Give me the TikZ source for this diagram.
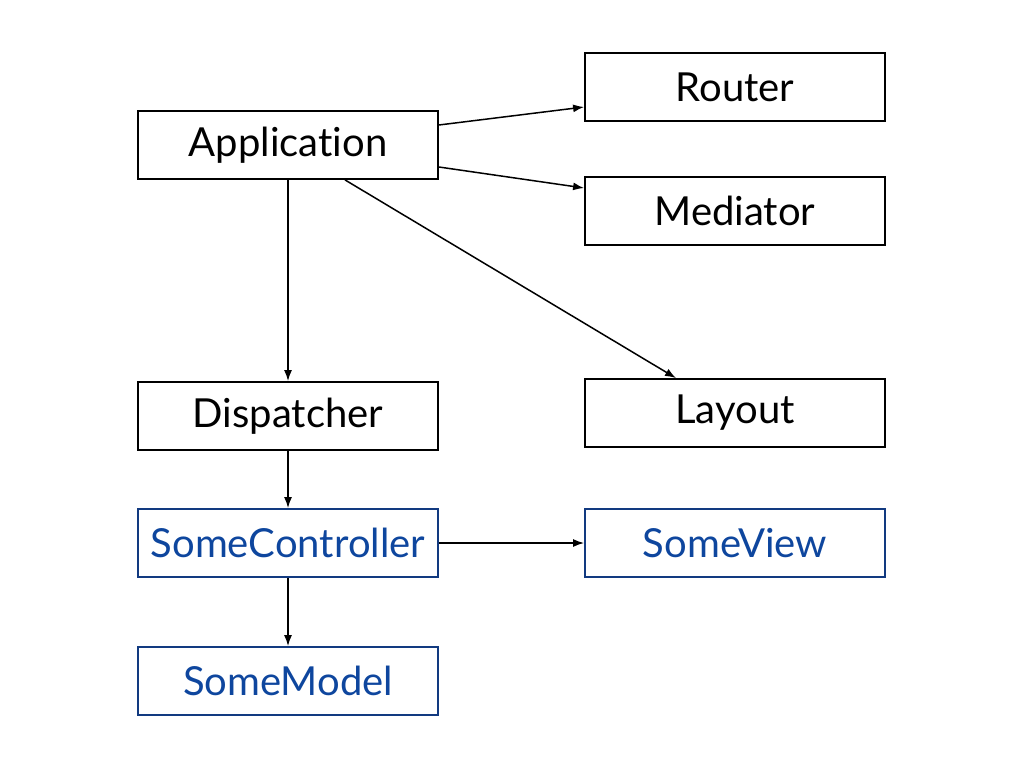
\documentclass[tikz,border=0pt]{standalone}
\usepackage{fontspec}
\setmainfont{Lato}[RawFeature=-liga]
\usetikzlibrary{arrows.meta}
\definecolor{navy}{RGB}{18,58,128}
\definecolor{bluetext}{RGB}{14,70,158}
\begin{document}
\begin{tikzpicture}[x=1pt,y=-1pt,
  box/.style={draw=black,line width=1.8pt,minimum width=300pt,minimum height=68pt,inner sep=0pt,font=\fontsize{40}{44}\selectfont},
  bluebox/.style={box,draw=navy,text=bluetext},
  arr/.style={-{Latex[length=11pt,width=8pt]},line width=1.5pt}]
\useasboundingbox (0,0) rectangle (1024,768);
\node[box] (app) at (288,145) {Application};
\node[box] (router) at (735,87) {Router};
\node[box] (med) at (735,211) {Mediator};
\node[box] (disp) at (288,416) {Dispatcher};
\node[box] (layout) at (735,413) {Layout};
\node[bluebox] (ctrl) at (288,543) {SomeController};
\node[bluebox] (view) at (735,543) {SomeView};
\node[bluebox] (model) at (288,681) {SomeModel};
\draw[arr] ([yshift=20pt]app.east) -- ([yshift=-20pt]router.west);
\draw[arr] ([yshift=-22pt]app.east) -- ([yshift=23pt]med.west);
\draw[arr] ([xshift=57pt]app.south) -- ([xshift=-59pt]layout.north);
\draw[arr] (app.south) -- (disp.north);
\draw[arr] (disp.south) -- (ctrl.north);
\draw[arr] (ctrl.east) -- (view.west);
\draw[arr] (ctrl.south) -- (model.north);
\end{tikzpicture}
\end{document}
